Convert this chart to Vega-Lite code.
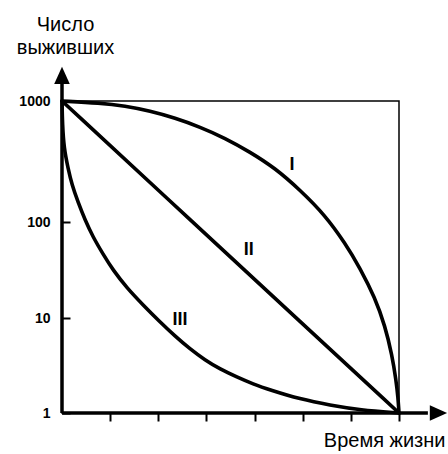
{
  "$schema": "https://vega.github.io/schema/vega-lite/v6.json",
  "width": 337,
  "height": 312,
  "autosize": {"type": "none"},
  "padding": {"left": 62, "top": 101, "right": 49, "bottom": 41},
  "background": "white",
  "config": {
    "view": {"stroke": "black", "strokeWidth": 1.5},
    "font": "Liberation Sans"
  },
  "datasets": {
    "curves": [
      {"curve": "I", "x": 0, "y": 1000},
      {"curve": "I", "x": 0.789, "y": 963},
      {"curve": "I", "x": 1.309, "y": 909},
      {"curve": "I", "x": 1.828, "y": 827},
      {"curve": "I", "x": 2.347, "y": 724},
      {"curve": "I", "x": 2.867, "y": 610},
      {"curve": "I", "x": 3.386, "y": 494},
      {"curve": "I", "x": 3.905, "y": 379},
      {"curve": "I", "x": 4.425, "y": 279},
      {"curve": "I", "x": 4.944, "y": 184},
      {"curve": "I", "x": 5.463, "y": 114},
      {"curve": "I", "x": 5.879, "y": 60.4},
      {"curve": "I", "x": 6.19, "y": 33.2},
      {"curve": "I", "x": 6.502, "y": 16.2},
      {"curve": "I", "x": 6.71, "y": 8.24},
      {"curve": "I", "x": 6.855, "y": 4.08},
      {"curve": "I", "x": 6.938, "y": 2.23},
      {"curve": "I", "x": 6.98, "y": 1.44},
      {"curve": "I", "x": 7, "y": 1},
      {"curve": "II", "x": 0, "y": 1000},
      {"curve": "II", "x": 2.715, "y": 100},
      {"curve": "II", "x": 4.867, "y": 10},
      {"curve": "II", "x": 7, "y": 1},
      {"curve": "III", "x": 0, "y": 1000},
      {"curve": "III", "x": 0.0104, "y": 633},
      {"curve": "III", "x": 0.0415, "y": 409},
      {"curve": "III", "x": 0.1246, "y": 279},
      {"curve": "III", "x": 0.2077, "y": 202},
      {"curve": "III", "x": 0.3324, "y": 146},
      {"curve": "III", "x": 0.4778, "y": 104},
      {"curve": "III", "x": 0.644, "y": 69.8},
      {"curve": "III", "x": 0.8517, "y": 46.4},
      {"curve": "III", "x": 1.0594, "y": 31.6},
      {"curve": "III", "x": 1.3502, "y": 20.5},
      {"curve": "III", "x": 1.6826, "y": 13.7},
      {"curve": "III", "x": 2.0357, "y": 9.08},
      {"curve": "III", "x": 2.3473, "y": 6.46},
      {"curve": "III", "x": 2.6589, "y": 4.72},
      {"curve": "III", "x": 2.9705, "y": 3.61},
      {"curve": "III", "x": 3.282, "y": 2.9},
      {"curve": "III", "x": 3.635, "y": 2.39},
      {"curve": "III", "x": 3.968, "y": 2.02},
      {"curve": "III", "x": 4.321, "y": 1.75},
      {"curve": "III", "x": 4.944, "y": 1.4},
      {"curve": "III", "x": 5.567, "y": 1.21},
      {"curve": "III", "x": 6.19, "y": 1.075},
      {"curve": "III", "x": 7, "y": 1}
    ],
    "labels": [
      {"x": 4.78, "y": 296, "t": "I"},
      {"x": 3.88, "y": 51, "t": "II"},
      {"x": 2.45, "y": 9.5, "t": "III"}
    ],
    "yaxisline": [{"x": 0, "y": 1, "y2": 1450}],
    "xaxisline": [{"x": 0, "x2": 7.6, "y": 1}],
    "arrows": [
      {"x": 0, "y": 1626, "s": "up"},
      {"x": 7.82, "y": 1, "s": "right"}
    ]
  },
  "encoding": {
    "x": {
      "field": "x",
      "type": "quantitative",
      "scale": {"domain": [0, 7], "nice": false, "zero": false},
      "axis": {
        "values": [1, 2, 3, 4, 5, 6, 7],
        "labels": false,
        "domain": false,
        "grid": false,
        "ticks": true,
        "tickSize": 8,
        "tickWidth": 2,
        "tickColor": "black",
        "title": "Время жизни",
        "titleFont": "Liberation Sans",
        "titleFontSize": 20,
        "titleFontWeight": "normal",
        "titleColor": "black",
        "titleAlign": "right",
        "titleX": 383,
        "titleY": 33,
        "titleBaseline": "alphabetic"
      }
    },
    "y": {
      "field": "y",
      "type": "quantitative",
      "scale": {"type": "log", "domain": [1, 10, 100, 1000], "range": [312, 217, 121, 0], "nice": false},
      "axis": {
        "values": [1, 10, 100, 1000],
        "format": "d",
        "domain": false,
        "grid": false,
        "tickSize": -8,
        "tickWidth": 2,
        "tickColor": "black",
        "labelPadding": 20,
        "labelFlush": false,
        "labelFont": "Liberation Sans",
        "labelFontSize": 14,
        "labelFontWeight": "bold",
        "labelColor": "black",
        "title": ["Число", "выживших"],
        "titleFont": "Liberation Sans",
        "titleFontSize": 20,
        "titleFontWeight": "normal",
        "titleColor": "black",
        "titleAngle": 0,
        "titleAlign": "center",
        "titleX": 3,
        "titleY": -71,
        "titleBaseline": "alphabetic",
        "titleLineHeight": 23
      }
    }
  },
  "layer": [
    {
      "data": {"name": "curves"},
      "mark": {"type": "line", "color": "black", "strokeWidth": 3.6, "interpolate": "basis", "strokeCap": "round"},
      "encoding": {"detail": {"field": "curve", "type": "nominal"}}
    },
    {
      "data": {"name": "yaxisline"},
      "mark": {"type": "rule", "color": "black", "strokeWidth": 3.5},
      "encoding": {"y2": {"field": "y2"}}
    },
    {
      "data": {"name": "xaxisline"},
      "mark": {"type": "rule", "color": "black", "strokeWidth": 3.5},
      "encoding": {"x2": {"field": "x2"}}
    },
    {
      "data": {"name": "arrows"},
      "mark": {"type": "point", "filled": true, "color": "black", "opacity": 1, "size": 300, "strokeWidth": 0},
      "encoding": {
        "shape": {
          "field": "s",
          "type": "nominal",
          "scale": {"domain": ["up", "right"], "range": ["M0,-1L0.9,1L-0.9,1Z", "M1,0L-1,0.9L-1,-0.9Z"]},
          "legend": null
        }
      }
    },
    {
      "data": {"name": "labels"},
      "mark": {"type": "text", "font": "Liberation Sans", "fontSize": 18, "fontWeight": "bold", "color": "black", "align": "center", "baseline": "middle"},
      "encoding": {"text": {"field": "t"}}
    }
  ]
}
